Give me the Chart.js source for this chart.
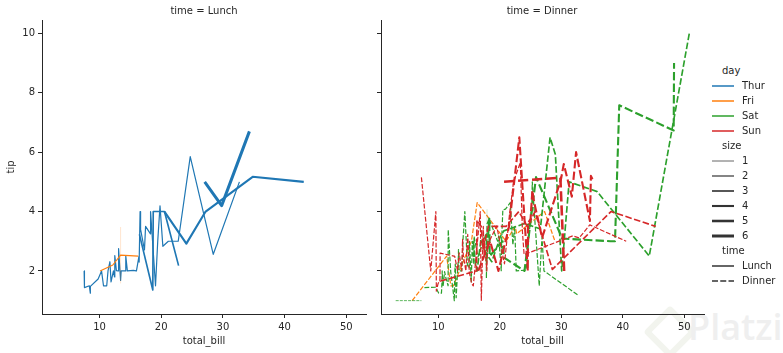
<!DOCTYPE html>
<html lang="en">
<head>
<meta charset="UTF-8">
<title>tips: tip vs total_bill by time</title>
<style>
  body { margin: 0; background: #fff; font-family: 'DejaVu Sans', sans-serif; color: #262626; }
  #wrap { position: relative; width: 783px; height: 353px; overflow: hidden; }
  canvas { position: absolute; top: 0; z-index: 2; }
  .facet-title { position: absolute; top: 5px; font-size: 10px; line-height: 12px; white-space: nowrap; transform: translateX(-50%); z-index: 3; }
  .leg { position: absolute; font-size: 10px; line-height: 12px; white-space: nowrap; z-index: 3; }
  .leg-handle { position: absolute; z-index: 3; }
  #mark { position: absolute; left: 644px; top: 302px; color: #efefef; font-size: 36px; font-family: 'Open Sans', sans-serif; font-weight: 600; z-index: 1; }
  #mark-logo { position: absolute; left: 651px; top: 313px; width: 26px; height: 26px; border: 6px solid #f2f4ee; transform: rotate(45deg); border-radius: 4px; z-index: 1; }
</style>
</head>
<body>
<div id="wrap">
  <div id="mark-logo"></div>
  <div id="mark"><span style="margin-left:44px">Platzi</span></div>
  <canvas id="lunch" width="370" height="353" style="left:0"></canvas>
  <canvas id="dinner" width="345" height="353" style="left:370px"></canvas>
  <div class="facet-title" style="left:204px">time = Lunch</div>
  <div class="facet-title" style="left:542px">time = Dinner</div>
  <div id="legend"></div>
</div>

<script src="https://cdn.jsdelivr.net/npm/chart.js"></script>
<script>
// categories
const days = ['Thur', 'Fri', 'Sat', 'Sun'];
const sizes = [1, 2, 3, 4, 5, 6];
const times = ['Lunch', 'Dinner'];
const xTicks = [10, 20, 30, 40, 50];
const yTicks = [2, 4, 6, 8, 10];

// [total_bill, mean tip] per group, sorted by total_bill
const lunchThur1 = [[10.07, 1.83]];
const lunchThur2 = [[7.51, 2.00], [7.56, 1.44], [8.35, 1.50], [8.51, 1.25], [8.52, 1.48], [9.78, 1.73], [10.33, 2.00], [10.34, 2.00], [10.65, 1.50], [11.17, 1.50], [11.38, 2.00], [11.69, 2.31], [11.87, 1.63], [12.26, 2.00], [12.43, 1.80], [12.48, 2.52], [12.74, 2.01], [13.00, 2.00], [13.03, 2.00], [13.16, 2.75], [13.42, 1.68], [13.51, 2.00], [14.15, 2.00], [14.26, 2.50], [14.52, 2.00], [15.48, 2.02], [15.95, 2.00], [15.98, 2.03], [16.00, 2.00], [16.40, 2.50], [16.43, 2.30], [16.58, 4.00], [16.66, 3.40], [17.29, 2.71], [17.47, 3.50], [18.26, 3.25], [18.28, 4.00], [19.08, 1.50], [19.44, 3.00], [19.81, 4.19], [20.27, 2.83], [21.16, 3.00], [22.76, 3.00], [24.71, 5.85], [28.44, 2.56], [32.68, 5.00]];
const lunchThur3 = [[16.47, 3.23], [18.64, 1.36], [18.71, 4.00], [20.53, 4.00], [22.82, 2.18]];
const lunchThur4 = [[20.53, 4.00], [24.08, 2.92], [27.20, 4.00], [34.83, 5.17], [43.11, 5.00]];
const lunchThur5 = [[41.19, 5.00]];
const lunchThur6 = [[27.05, 5.00], [29.80, 4.20], [34.30, 6.70]];
const lunchFri1 = [[8.58, 1.92]];
const lunchFri2 = [[10.09, 2.00], [12.16, 2.20], [13.42, 2.53], [16.27, 2.50]];
const lunchFri2Band = [[13.42, 1.58], [13.42, 3.48]];
const lunchFri3 = [[15.98, 3.00]];

const dinnerThur2 = [[18.78, 3.00]];
const dinnerFri2 = [[5.75, 1.00], [11.35, 2.50], [12.03, 1.50], [12.46, 1.50], [15.38, 3.00], [16.32, 4.30], [21.01, 3.00], [22.49, 3.50], [22.75, 3.25], [27.28, 4.00], [28.97, 3.00]];
const dinnerFri4 = [[40.17, 4.73]];
const dinnerSat1 = [[3.07, 1.00], [7.25, 1.00]];
const dinnerSat2 = [[7.74, 1.44], [9.55, 1.45], [10.07, 1.25], [10.51, 1.25], [10.59, 1.61], [10.63, 2.00], [10.77, 1.47], [11.02, 1.98], [11.24, 1.76], [11.59, 1.50], [11.61, 3.39], [12.02, 1.97], [12.60, 1.00], [12.69, 2.00], [12.76, 2.23], [12.90, 1.10], [13.27, 2.50], [13.28, 2.72], [13.37, 2.00], [13.81, 2.00], [14.00, 3.00], [14.31, 4.00], [14.73, 2.20], [15.01, 2.09], [15.06, 3.00], [15.36, 1.64], [15.53, 3.00], [15.77, 2.23], [15.81, 3.16], [16.45, 2.47], [17.78, 3.27], [17.82, 1.75], [17.92, 3.58], [18.24, 3.76], [19.65, 3.00], [19.82, 3.18], [20.23, 2.01], [20.29, 2.98], [20.49, 4.06], [20.92, 4.08], [21.70, 4.30], [22.12, 2.88], [22.42, 3.48], [22.67, 2.00], [24.27, 2.03], [25.21, 4.29], [25.28, 5.00], [26.41, 1.50], [26.86, 3.14], [27.18, 2.00], [32.83, 1.17]];
const dinnerSat2BandA = [[17.92, 3.08], [17.92, 4.08]];
const dinnerSat2BandB = [[20.29, 2.75], [20.29, 3.21]];
const dinnerSat3 = [[15.69, 3.00], [16.04, 2.24], [16.31, 2.00], [16.93, 3.07], [17.07, 3.00], [17.59, 2.64], [18.69, 2.31], [20.08, 3.15], [20.65, 3.35], [24.06, 3.60], [26.59, 3.41], [28.17, 6.50], [29.03, 5.92], [30.06, 2.00], [31.27, 5.00], [35.83, 4.67], [44.30, 2.50], [50.81, 10.00]];
const dinnerSat4 = [[17.81, 2.34], [18.29, 3.76], [18.35, 2.50], [20.45, 3.00], [20.69, 2.45], [24.01, 2.00], [25.89, 5.16], [30.14, 3.09], [38.01, 3.00], [38.73, 3.00], [39.42, 7.58], [48.27, 6.73], [48.33, 9.00]];
const dinnerSat5 = [[28.15, 3.00]];
const dinnerSun2 = [[7.25, 5.15], [8.77, 2.00], [9.60, 4.00], [9.68, 1.32], [9.94, 1.56], [10.27, 1.71], [10.29, 2.60], [12.54, 2.50], [12.66, 2.50], [13.13, 2.00], [13.39, 2.61], [13.81, 2.00], [13.94, 3.06], [14.07, 2.50], [14.48, 2.00], [14.78, 3.23], [14.83, 3.02], [15.04, 1.96], [15.42, 1.57], [15.69, 1.50], [16.82, 4.00], [16.99, 1.01], [17.31, 3.50], [17.46, 2.54], [17.51, 3.00], [17.89, 2.00], [18.04, 3.00], [18.29, 3.00], [19.49, 3.51], [20.76, 2.24], [21.58, 3.92], [22.23, 5.00], [23.33, 5.65], [23.68, 3.31], [23.95, 2.55], [31.85, 3.18], [32.90, 3.11], [34.63, 3.55], [40.55, 3.00]];
const dinnerSun3 = [[10.33, 1.67], [10.34, 1.66], [16.21, 2.00], [16.29, 3.71], [16.97, 3.50], [17.26, 2.74], [18.15, 3.50], [20.90, 3.50], [21.01, 3.50], [23.10, 4.00], [24.52, 3.48], [25.71, 4.00], [28.55, 2.05], [38.07, 4.00], [45.35, 3.50]];
const dinnerSun4 = [[16.49, 2.00], [18.43, 3.00], [19.77, 2.00], [21.50, 3.50], [23.17, 6.50], [24.55, 2.00], [24.59, 3.61], [25.00, 3.75], [25.29, 4.71], [25.56, 4.34], [26.88, 3.12], [29.93, 5.07], [30.40, 5.60], [31.71, 4.50], [32.40, 6.00], [34.65, 3.68], [34.81, 5.20], [35.26, 5.00]];
const dinnerSun5 = [[20.69, 5.00], [29.85, 5.14], [30.46, 2.00]];
const dinnerSun6 = [[48.17, 5.00]];

// styling
const dayColors = { Thur: '#1f77b4', Fri: '#ff7f0e', Sat: '#2ca02c', Sun: '#d62728' };
const bandColors = { Thur: 'rgba(31,119,180,0.2)', Fri: 'rgba(255,127,14,0.2)', Sat: 'rgba(44,160,44,0.2)', Sun: 'rgba(214,39,40,0.2)' };
const lineWidths = { 1: 0.75, 2: 1.2, 3: 1.65, 4: 2.1, 5: 2.55, 6: 3.0 };
const ink = '#262626';
const font = { family: 'DejaVu Sans', size: 10 };

function line(points, day, size, time) {
    const w = lineWidths[size];
    return {
        data: points.map(p => ({ x: p[0], y: p[1] })),
        borderColor: dayColors[day],
        borderWidth: w,
        borderDash: time === 'Dinner' ? [4 * w, 1.5 * w] : [],
        borderCapStyle: 'butt',
        borderJoinStyle: 'round',
        showLine: true,
        pointRadius: 0,
        tension: 0,
        fill: false
    };
}

function band(points, day) {
    return {
        data: points.map(p => ({ x: p[0], y: p[1] })),
        borderColor: bandColors[day],
        borderWidth: 1,
        borderCapStyle: 'butt',
        showLine: true,
        pointRadius: 0,
        fill: false
    };
}

// seaborn draw order (later on top); Chart.js draws index 0 last, so reverse
const lunchSets = [
    line(lunchThur1, 'Thur', 1, 'Lunch'),
    line(lunchThur2, 'Thur', 2, 'Lunch'),
    line(lunchThur3, 'Thur', 3, 'Lunch'),
    line(lunchThur4, 'Thur', 4, 'Lunch'),
    line(lunchThur5, 'Thur', 5, 'Lunch'),
    line(lunchThur6, 'Thur', 6, 'Lunch'),
    line(lunchFri1, 'Fri', 1, 'Lunch'),
    line(lunchFri2, 'Fri', 2, 'Lunch'),
    band(lunchFri2Band, 'Fri'),
    line(lunchFri3, 'Fri', 3, 'Lunch')
].reverse();

const dinnerSets = [
    line(dinnerThur2, 'Thur', 2, 'Dinner'),
    line(dinnerFri2, 'Fri', 2, 'Dinner'),
    line(dinnerFri4, 'Fri', 4, 'Dinner'),
    line(dinnerSat1, 'Sat', 1, 'Dinner'),
    line(dinnerSat2, 'Sat', 2, 'Dinner'),
    band(dinnerSat2BandA, 'Sat'),
    band(dinnerSat2BandB, 'Sat'),
    line(dinnerSat3, 'Sat', 3, 'Dinner'),
    line(dinnerSat4, 'Sat', 4, 'Dinner'),
    line(dinnerSat5, 'Sat', 5, 'Dinner'),
    line(dinnerSun2, 'Sun', 2, 'Dinner'),
    line(dinnerSun3, 'Sun', 3, 'Dinner'),
    line(dinnerSun4, 'Sun', 4, 'Dinner'),
    line(dinnerSun5, 'Sun', 5, 'Dinner'),
    line(dinnerSun6, 'Sun', 6, 'Dinner')
].reverse();

function axisGrid() {
    return { drawOnChartArea: false, drawTicks: true, tickLength: 4, color: ink, tickColor: ink, tickWidth: 1 };
}

function panel(id, datasets, firstCol, yWidth, rightPad) {
    return new Chart(document.getElementById(id), {
        type: 'scatter',
        data: { datasets },
        options: {
            responsive: false,
            animation: false,
            events: [],
            layout: { padding: { top: 20, right: rightPad, left: 0, bottom: 0 } },
            plugins: { legend: { display: false }, tooltip: { enabled: false } },
            scales: {
                x: {
                    type: 'linear',
                    min: 0.68,
                    max: 53.2,
                    afterBuildTicks: s => { s.ticks = xTicks.map(v => ({ value: v })); },
                    afterFit: s => { s.height = 39; },
                    grid: axisGrid(),
                    border: { display: true, color: ink, width: 1 },
                    ticks: { color: ink, font, padding: 3, maxRotation: 0, autoSkip: false },
                    title: { display: true, text: 'total_bill', color: ink, font, padding: { top: 0, bottom: 6 } }
                },
                y: {
                    type: 'linear',
                    min: 0.55,
                    max: 10.45,
                    afterBuildTicks: s => { s.ticks = yTicks.map(v => ({ value: v })); },
                    afterFit: s => { s.width = yWidth; },
                    grid: axisGrid(),
                    border: { display: true, color: ink, width: 1 },
                    ticks: { color: ink, font, padding: 3, autoSkip: false,
                        callback: v => firstCol ? String(v) : '' },
                    title: { display: firstCol, text: 'tip', color: ink, font, padding: { top: 5, bottom: 0 } }
                }
            }
        }
    });
}

panel('lunch', lunchSets, true, 42, 4);
panel('dinner', dinnerSets, false, 11, 11);

// legend
const legend = document.getElementById('legend');
function legText(text, left, cy) {
    const d = document.createElement('div');
    d.className = 'leg';
    d.style.left = left + 'px';
    d.style.top = (cy - 6) + 'px';
    d.textContent = text;
    legend.appendChild(d);
}
function legHandle(cy, color, width, dash) {
    const ns = 'http://www.w3.org/2000/svg';
    const svg = document.createElementNS(ns, 'svg');
    svg.setAttribute('width', '22');
    svg.setAttribute('height', '8');
    svg.setAttribute('class', 'leg-handle');
    svg.style.left = '712px';
    svg.style.top = (cy - 4) + 'px';
    const l = document.createElementNS(ns, 'line');
    l.setAttribute('x1', '0'); l.setAttribute('x2', '22');
    l.setAttribute('y1', '4'); l.setAttribute('y2', '4');
    l.setAttribute('stroke', color);
    l.setAttribute('stroke-width', width);
    if (dash) l.setAttribute('stroke-dasharray', dash);
    svg.appendChild(l);
    legend.appendChild(svg);
}

let cy = 71;
legText('day', 722, cy);
days.forEach(d => { cy += 15; legHandle(cy, dayColors[d], 1.5); legText(d, 742, cy); });
cy += 15;
legText('size', 722, cy);
sizes.forEach(s => { cy += 15; legHandle(cy, '#333333', lineWidths[s]); legText(String(s), 742, cy); });
cy += 15;
legText('time', 722, cy);
times.forEach(t => { cy += 15; legHandle(cy, '#333333', 1.5, t === 'Dinner' ? '6 2.25' : null); legText(t, 742, cy); });
</script>
</body>
</html>
